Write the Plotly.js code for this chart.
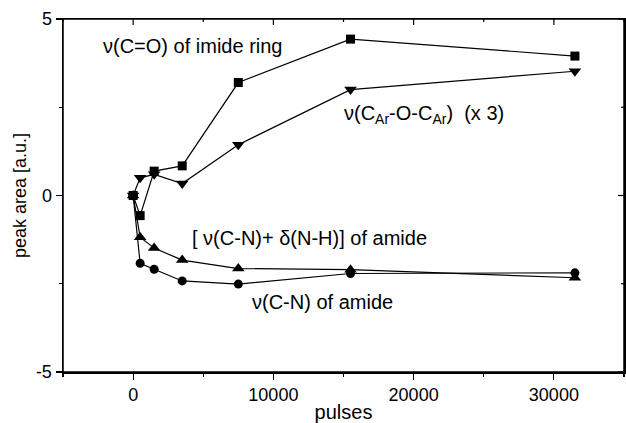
<!DOCTYPE html>
<html>
<head>
<meta charset="utf-8">
<script src="https://cdn.plot.ly/plotly-3.0.1.min.js"></script>
<style>html,body{margin:0;padding:0;background:#fff;overflow:hidden;}#chart{width:626px;height:423px;}</style>
</head>
<body>
<div id="chart"></div>
<script>
// pulses
const pulses = [0, 500, 1500, 3500, 7500, 15500, 31500];
// peak areas [a.u.]
const imideCO = [0, -0.57, 0.69, 0.84, 3.2, 4.43, 3.95];          // squares
const etherCOC = [0, 0.5, 0.6, 0.34, 1.44, 3.0, 3.52];            // triangle-down (x3)
const amideCNNH = [0, -1.18, -1.49, -1.83, -2.07, -2.1, -2.33];   // triangle-up
const amideCN = [0, -1.92, -2.09, -2.42, -2.51, -2.21, -2.19];    // circles

const xTickVals = [0, 10000, 20000, 30000];
const xMinorVals = [-5000, 5000, 15000, 25000, 35000];
const yTickVals = [-5, 0, 5];
const yMinorVals = [-2.5, 2.5];

const FONT = 'Liberation Sans, Arial, Helvetica, sans-serif';

function series(y, symbol, size) {
  return {
    x: pulses, y: y, type: 'scatter', mode: 'lines+markers',
    line: {color: '#000', width: 1.2},
    marker: {symbol: symbol, size: size, color: '#000'},
    hoverinfo: 'skip', showlegend: false
  };
}

const data = [
  series(amideCN, 'circle', 9),
  series(amideCNNH, 'triangle-up', 11),
  series(etherCOC, 'triangle-down', 11),
  series(imideCO, 'square', 9)
];

const axisCommon = {
  showgrid: false, zeroline: false, showline: true, linecolor: '#000', linewidth: 1.5,
  tickcolor: '#000', tickwidth: 1.2, automargin: false, mirror: true
};

// frame and inward ticks on the top and right edges
const shapes = [
  {type: 'rect', xref: 'paper', yref: 'paper', x0: 0, x1: 1, y0: 0, y1: 1,
   line: {color: '#000', width: 1.5}, layer: 'above'}
];
xTickVals.concat(xMinorVals).forEach(v => {
  const len = xTickVals.includes(v) ? 6 : 3;
  shapes.push({type: 'line', xref: 'x', yref: 'paper', ysizemode: 'pixel', yanchor: 1,
    x0: v, x1: v, y0: 0, y1: -len, line: {color: '#000', width: 1.2}});
});
yTickVals.concat(yMinorVals).forEach(v => {
  const len = yTickVals.includes(v) ? 6 : 3;
  shapes.push({type: 'line', yref: 'y', xref: 'paper', xsizemode: 'pixel', xanchor: 1,
    y0: v, y1: v, x0: 0, x1: -len, line: {color: '#000', width: 1.2}});
});

const layout = {
  width: 626, height: 423,
  margin: {l: 63, r: 2, t: 19, b: 51},
  paper_bgcolor: '#fff', plot_bgcolor: '#fff',
  font: {family: FONT, color: '#000', size: 18},
  showlegend: false,
  xaxis: Object.assign({}, axisCommon, {
    range: [-5000, 35000], tickvals: xTickVals, ticktext: xTickVals.map(String),
    ticks: 'outside', ticklen: 6,
    minor: {dtick: 5000, tick0: 0, ticks: 'outside', ticklen: 3, tickcolor: '#000', showgrid: false},
    tickfont: {size: 18, family: FONT},
    title: {text: 'pulses', font: {size: 20, family: FONT}, standoff: 2}
  }),
  yaxis: Object.assign({}, axisCommon, {
    range: [-5, 5], tickvals: yTickVals, ticktext: ['-5', '0', '5'],
    ticks: 'outside', ticklen: 6,
    minor: {dtick: 2.5, tick0: 0, ticks: 'outside', ticklen: 3, tickcolor: '#000', showgrid: false},
    tickfont: {size: 18, family: FONT},
    title: {text: 'peak area [a.u.]', font: {size: 18, family: FONT}, standoff: 4}
  }),
  shapes: shapes,
  annotations: [
    {text: 'ν(C=O) of imide ring', x: -2300, y: 4.23, xref: 'x', yref: 'y',
     xanchor: 'left', yanchor: 'middle', showarrow: false, font: {size: 20, family: FONT}},
    {text: 'ν(C<sub>Ar</sub>-O-C<sub>Ar</sub>)&nbsp;&nbsp;(x 3)', x: 14900, y: 2.3, xref: 'x', yref: 'y',
     xanchor: 'left', yanchor: 'middle', showarrow: false, font: {size: 20, family: FONT}},
    {text: '[ ν(C-N)+ δ(N-H)] of amide', x: 4050, y: -1.19, xref: 'x', yref: 'y',
     xanchor: 'left', yanchor: 'middle', showarrow: false, font: {size: 20, family: FONT}},
    {text: 'ν(C-N) of amide', x: 8300, y: -3.01, xref: 'x', yref: 'y',
     xanchor: 'left', yanchor: 'middle', showarrow: false, font: {size: 20, family: FONT}}
  ]
};

Plotly.newPlot('chart', data, layout, {staticPlot: true, displayModeBar: false});
</script>
</body>
</html>
